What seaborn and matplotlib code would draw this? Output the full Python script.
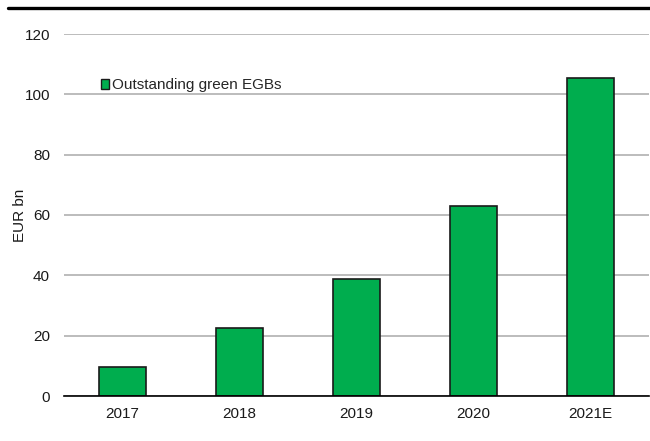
import matplotlib
matplotlib.use("Agg")
import matplotlib.pyplot as plt
from matplotlib.lines import Line2D
from matplotlib.patches import Patch
import seaborn as sns
import pandas as pd

# Outstanding green euro-government bonds per year
years = ["2017", "2018", "2019", "2020", "2021E"]
outstanding = [9.7, 22.4, 38.7, 63.1, 105.5]
series_name = "Outstanding green EGBs"
y_ticks = [0, 20, 40, 60, 80, 100, 120]

sns.set_theme(style="white")
plt.rcParams["font.family"] = ["Liberation Sans", "DejaVu Sans"]

W, H = 650, 441
L, R, B, T = 64, 649, 396, 34
fig = plt.figure(figsize=(W / 100, H / 100), dpi=100)
ax = fig.add_axes([L / W, 1 - B / H, (R - L) / W, (B - T) / H])

df = pd.DataFrame({"year": years, "value": outstanding})
green = "#00AD4E"
sns.barplot(data=df, x="year", y="value", color=green, width=0.40,
            edgecolor="#1a1a1a", linewidth=1.2, saturation=1, ax=ax, zorder=3)

ax.set_xlim(-0.5, len(years) - 0.5)
ax.set_ylim(0, 120)
ax.set_yticks(y_ticks)
ax.set_yticklabels([str(t) for t in y_ticks])
ax.yaxis.grid(True, color="#b0b0b0", linewidth=1.2, zorder=0)
ax.xaxis.grid(False)
ax.set_axisbelow(True)

for s in ["left", "right", "top"]:
    ax.spines[s].set_visible(False)
ax.spines["bottom"].set_color("black")
ax.spines["bottom"].set_linewidth(1.2)
ax.spines["bottom"].set_zorder(4)

fs = 11
ax.tick_params(axis="both", length=0, labelsize=fs, colors="#1a1a1a")
ax.tick_params(axis="y", pad=10)
ax.tick_params(axis="x", pad=8)
ax.set_xlabel("")
ax.set_ylabel("EUR bn", fontsize=fs, color="#1a1a1a")
ax.yaxis.set_label_coords((27 - L) / (R - L), 0.5)

handle = Patch(facecolor=green, edgecolor="#1a1a1a", linewidth=1)
ax.legend([handle], [series_name], loc="center left",
          bbox_to_anchor=((101 - L) / (R - L), (B - 85.5) / (B - T)),
          frameon=False, fontsize=fs, handlelength=0.55, handleheight=0.55,
          handletextpad=0.2, borderpad=0, borderaxespad=0)

# heavy rule across the top of the figure
fig.add_artist(Line2D([8 / W, 1.0], [1 - 8 / H, 1 - 8 / H],
                      color="black", linewidth=2.4, transform=fig.transFigure))

fig.savefig("out.png", dpi=100)
